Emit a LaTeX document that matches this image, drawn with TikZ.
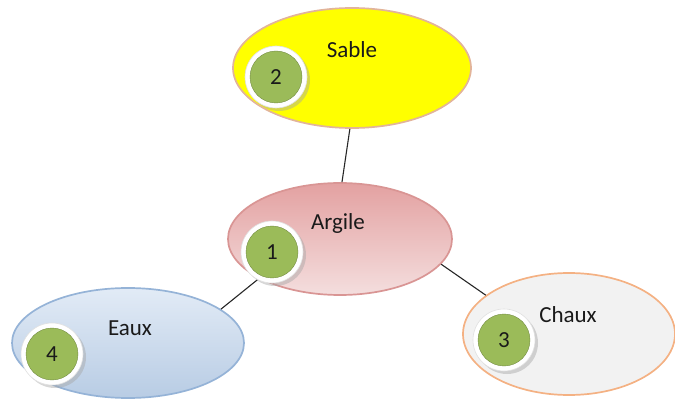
\documentclass[tikz,border=0pt]{standalone}
\usepackage{fontspec}
\setmainfont{Carlito}
\usetikzlibrary{shapes.geometric,shadows}
\definecolor{sablefill}{HTML}{FFFF00}
\definecolor{sableedge}{HTML}{E2B49A}
\definecolor{argtop}{HTML}{E3A1A1}
\definecolor{argbot}{HTML}{F4DEDE}
\definecolor{argedge}{HTML}{D99594}
\definecolor{eauxtop}{HTML}{E2EBF6}
\definecolor{eauxbot}{HTML}{B8CCE4}
\definecolor{eauxedge}{HTML}{95B3D7}
\definecolor{chauxfill}{HTML}{F2F2F2}
\definecolor{chauxedge}{HTML}{F4B183}
\definecolor{numgreen}{HTML}{9BBB59}
\definecolor{txt}{HTML}{1A1A1A}
\tikzset{
  bubble/.style={ellipse, inner sep=0pt, line width=1.7pt},
  label/.style={font=\fontsize{23}{27}\selectfont, text=txt, inner sep=0pt},
  shadowdisk/.style={circle, fill=black!35, opacity=0.45, minimum size=62pt, inner sep=0pt},
  ringdisk/.style={circle, fill=white, draw=black!12, line width=0.6pt, minimum size=62pt, inner sep=0pt},
  numdisk/.style={circle, fill=numgreen, draw=numgreen!75!black, line width=0.4pt, minimum size=52pt, inner sep=0pt,
    font=\fontsize{23}{27}\selectfont, text=txt},
  link/.style={draw=black!85, line width=1.1pt}
}
\begin{document}
\begin{tikzpicture}[x=1pt,y=-1pt]
\useasboundingbox (0,0) rectangle (675,406);
% ellipses
\node[bubble, fill=sablefill, draw=sableedge, minimum width=238pt, minimum height=120pt] (sable) at (352,68) {};
\node[bubble, top color=argtop, bottom color=argbot, draw=argedge, minimum width=224pt, minimum height=112pt] (argile) at (340,239) {};
\node[bubble, top color=eauxtop, bottom color=eauxbot, draw=eauxedge, minimum width=232pt, minimum height=110pt] (eaux) at (128,343) {};
\node[bubble, fill=chauxfill, draw=chauxedge, minimum width=212pt, minimum height=122pt] (chaux) at (569,334) {};
% connectors
\draw[link] (sable.-92) -- (argile.88);
\draw[link] (argile.-14) -- (chaux.155);
\draw[link] (argile.-154) -- (eaux.20);
% labels
\node[label] (sablet) at (352,50) {Sable};
\node[label] (argilet) at (338,223) {Argile};
\node[label] (eauxt) at (130,328) {Eaux};
\node[label] (chauxt) at (568,315) {Chaux};
% number badges
\node[shadowdisk] (s2) at (279,80) {};
\node[ringdisk] (r2) at (276,77) {};
\node[numdisk] (n2) at (276,77) {2};
\node[shadowdisk] (s1) at (275,255) {};
\node[ringdisk] (r1) at (272,252) {};
\node[numdisk] (n1) at (272,252) {1};
\node[shadowdisk] (s4) at (55,357) {};
\node[ringdisk] (r4) at (52,354) {};
\node[numdisk] (n4) at (52,354) {4};
\node[shadowdisk] (s3) at (507,343) {};
\node[ringdisk] (r3) at (504,340) {};
\node[numdisk] (n3) at (504,340) {3};
\end{tikzpicture}
\end{document}
